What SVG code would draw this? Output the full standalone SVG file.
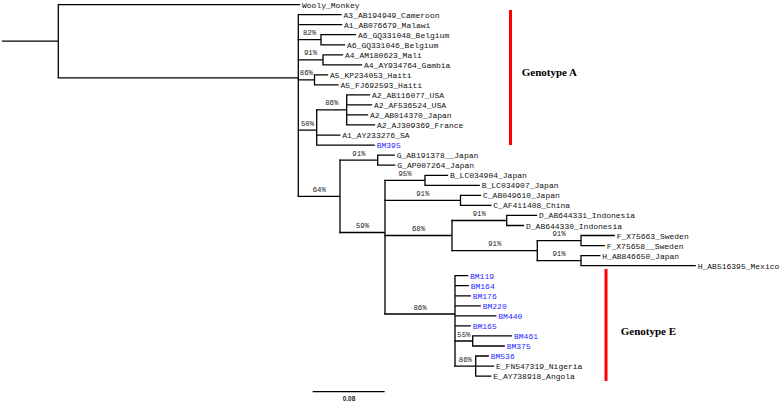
<svg xmlns="http://www.w3.org/2000/svg" width="782" height="402" viewBox="0 0 782 402">
<style>
.br{stroke:#000;stroke-width:1.3;fill:none;stroke-linecap:square}
.tip{font-family:"Liberation Mono","Courier New",monospace;font-size:8px;fill:#111}
.bm{fill:#1f1fff}
.bs{font-family:"Liberation Mono","Courier New",monospace;font-size:7.3px;fill:#222;text-anchor:middle}
.geno{font-family:"Liberation Serif","Times New Roman",serif;font-size:11px;font-weight:bold;fill:#000}
.red{stroke:#ff0000;stroke-width:3;fill:none}
</style>
<rect width="782" height="402" fill="#fff"/>
<g id="connectors">
<!-- root -->
<path class="br" d="M2.5 41.2H58.3M58.3 4.6V77.9M58.3 4.6H299.5M58.3 77.9H298.3"/>
<!-- ingroup -->
<path class="br" d="M298.3 14.6V196.4M298.3 14.6H341M298.3 24.7H341.5"/>
<!-- A6 -->
<path class="br" d="M298.3 39.7H321M321 34.7V44.8M321 34.7H355.5M321 44.8H344.5"/>
<!-- A4 -->
<path class="br" d="M298.3 59.8H323M323 54.8V64.9M323 54.8H342.5M323 64.9H361.5"/>
<!-- A5 -->
<path class="br" d="M298.3 79.9H314.5M314.5 74.9V84.9M314.5 74.9H327.5M314.5 84.9H338"/>
<!-- 50% -->
<path class="br" d="M298.3 130.1H316.7M316.7 109.9V145.2M316.7 135.1H339.8M316.7 145.2H374.2"/>
<!-- A2 -->
<path class="br" d="M316.7 109.9H346.7M346.7 94.8V124.9M346.7 94.8H369.5M346.7 104.8H371.5M346.7 114.9H367.5M346.7 124.9H374.5"/>
<!-- 64% -->
<path class="br" d="M298.3 196.4H340M340 160.2V232.5"/>
<!-- G -->
<path class="br" d="M340 160.2H377.7M377.7 155.2V165.2M377.7 155.2H394.2M377.7 165.2H394.8"/>
<!-- 59% -->
<path class="br" d="M340 232.5H385M385 180.3V314"/>
<!-- B -->
<path class="br" d="M385 180.3H425M425 175.3V185.3M425 175.3H447.5M425 185.3H479.2"/>
<!-- C -->
<path class="br" d="M385 200.4H460.5M460.5 195.4V205.4M460.5 195.4H480.5M460.5 205.4H490.8"/>
<!-- 68% -->
<path class="br" d="M385 235.5H452M452 220.5V250.6"/>
<!-- D -->
<path class="br" d="M452 220.5H506.7M506.7 215.4V225.5M506.7 215.4H536.5M506.7 225.5H523.5"/>
<!-- FH -->
<path class="br" d="M452 250.6H537.3M537.3 240.6V260.6"/>
<!-- F -->
<path class="br" d="M537.3 240.6H581M581 235.5V245.6M581 235.5H614.2M581 245.6H604.2"/>
<!-- H -->
<path class="br" d="M537.3 260.6H581M581 255.6V265.6M581 255.6H599.8M581 265.6H695.2"/>
<!-- E -->
<path class="br" d="M385 314H455M455 275.7V366.1M455 275.7H467.5M455 285.7H468.2M455 295.8H470.2M455 305.8H480.2M455 315.8H495.8M455 325.9H470.2"/>
<!-- 55% -->
<path class="br" d="M455 341H472.7M472.7 335.9V346M472.7 335.9H511.5M472.7 346H504.2"/>
<!-- 86% sub -->
<path class="br" d="M455 366.1H475.7M475.7 356V376.1M475.7 356H488.2M475.7 366.1H493.5M475.7 376.1H490.8"/>
</g>
<g id="bootstrap">
<text class="bs" x="309.5" y="35.2">82%</text>
<text class="bs" x="310.5" y="55.3">91%</text>
<text class="bs" x="306.4" y="75.4">86%</text>
<text class="bs" x="331.7" y="105.4">86%</text>
<text class="bs" x="307.5" y="125.6">50%</text>
<text class="bs" x="319.2" y="191.9">64%</text>
<text class="bs" x="358.9" y="155.7">91%</text>
<text class="bs" x="362.5" y="228">59%</text>
<text class="bs" x="405" y="175.8">95%</text>
<text class="bs" x="422.7" y="195.9">91%</text>
<text class="bs" x="418.5" y="231">68%</text>
<text class="bs" x="479.3" y="216">91%</text>
<text class="bs" x="494.7" y="246.1">91%</text>
<text class="bs" x="559" y="236.1">91%</text>
<text class="bs" x="559" y="256.1">91%</text>
<text class="bs" x="420" y="309.5">86%</text>
<text class="bs" x="463.9" y="336.5">55%</text>
<text class="bs" x="465.4" y="361.6">86%</text>
</g>
<g id="n-wooly"><text class="tip" x="302" y="7.6">Wooly_Monkey</text></g>
<g id="n-A3"><text class="tip" x="343.5" y="17.6">A3_AB194949_Cameroon</text></g>
<g id="n-A1-malawi"><text class="tip" x="344" y="27.7">A1_AB076679_Malawi</text></g>
<g id="n-A6-048"><text class="tip" x="358" y="37.7">A6_GQ331048_Belgium</text></g>
<g id="n-A6-046"><text class="tip" x="347" y="47.8">A6_GQ331046_Belgium</text></g>
<g id="n-A4-mali"><text class="tip" x="345" y="57.8">A4_AM180623_Mali</text></g>
<g id="n-A4-gambia"><text class="tip" x="364" y="67.9">A4_AY934764_Gambia</text></g>
<g id="n-A5-kp"><text class="tip" x="330" y="77.9">A5_KP234053_Haiti</text></g>
<g id="n-A5-fj"><text class="tip" x="340.5" y="87.9">A5_FJ692593_Haiti</text></g>
<g id="n-A2-ab116"><text class="tip" x="372" y="97.8">A2_AB116077_USA</text></g>
<g id="n-A2-af"><text class="tip" x="374" y="107.8">A2_AF536524_USA</text></g>
<g id="n-A2-ab014"><text class="tip" x="370" y="117.9">A2_AB014370_Japan</text></g>
<g id="n-A2-aj"><text class="tip" x="377" y="127.9">A2_AJ309369_France</text></g>
<g id="n-A1-sa"><text class="tip" x="342.3" y="138.1">A1_AY233276_SA</text></g>
<g id="n-BM395"><text class="tip bm" x="376.7" y="148.2">BM395</text></g>
<g id="n-G-ab"><text class="tip" x="396.7" y="158.2">G_AB191378__Japan</text></g>
<g id="n-G-ap"><text class="tip" x="397.3" y="168.2">G_AP007264_Japan</text></g>
<g id="n-B-904"><text class="tip" x="450" y="178.3">B_LC034904_Japan</text></g>
<g id="n-B-907"><text class="tip" x="481.7" y="188.3">B_LC034907_Japan</text></g>
<g id="n-C-ab"><text class="tip" x="483" y="198.4">C_AB049610_Japan</text></g>
<g id="n-C-af"><text class="tip" x="493.3" y="208.4">C_AF411408_China</text></g>
<g id="n-D-331"><text class="tip" x="539" y="218.4">D_AB644331_Indonesia</text></g>
<g id="n-D-330"><text class="tip" x="526" y="228.5">D_AB644330_Indonesia</text></g>
<g id="n-F-663"><text class="tip" x="616.7" y="238.5">F_X75663_Sweden</text></g>
<g id="n-F-658"><text class="tip" x="606.7" y="248.6">F_X75658__Sweden</text></g>
<g id="n-H-ab"><text class="tip" x="602.3" y="258.6">H_AB846650_Japan</text></g>
<g id="n-H-mex"><text class="tip" x="697.7" y="268.6">H_AB516395_Mexico</text></g>
<g id="n-BM119"><text class="tip bm" x="470" y="278.7">BM119</text></g>
<g id="n-BM164"><text class="tip bm" x="470.7" y="288.7">BM164</text></g>
<g id="n-BM176"><text class="tip bm" x="472.7" y="298.8">BM176</text></g>
<g id="n-BM220"><text class="tip bm" x="482.7" y="308.8">BM220</text></g>
<g id="n-BM440"><text class="tip bm" x="498.3" y="318.8">BM440</text></g>
<g id="n-BM165"><text class="tip bm" x="472.7" y="328.9">BM165</text></g>
<g id="n-BM461"><text class="tip bm" x="514" y="338.9">BM461</text></g>
<g id="n-BM375"><text class="tip bm" x="506.7" y="349">BM375</text></g>
<g id="n-BM536"><text class="tip bm" x="490.7" y="359">BM536</text></g>
<g id="n-E-fn"><text class="tip" x="496" y="369.1">E_FN547319_Nigeria</text></g>
<g id="n-E-ay"><text class="tip" x="493.3" y="379.1">E_AY738918_Angola</text></g>
<g id="genotype-A">
<path class="red" d="M510.5 10V145"/>
<text class="geno" x="521.7" y="76">Genotype A</text>
</g>
<g id="genotype-E">
<path class="red" d="M606 269V381"/>
<text class="geno" x="620.7" y="335">Genotype E</text>
</g>
<g id="scale">
<path class="br" d="M313.3 391.7H384"/>
<text x="349" y="400.5" text-anchor="middle" style="font-family:'Liberation Sans',Arial,sans-serif;font-size:6.5px;font-weight:bold;fill:#222">0.08</text>
</g>
</svg>
